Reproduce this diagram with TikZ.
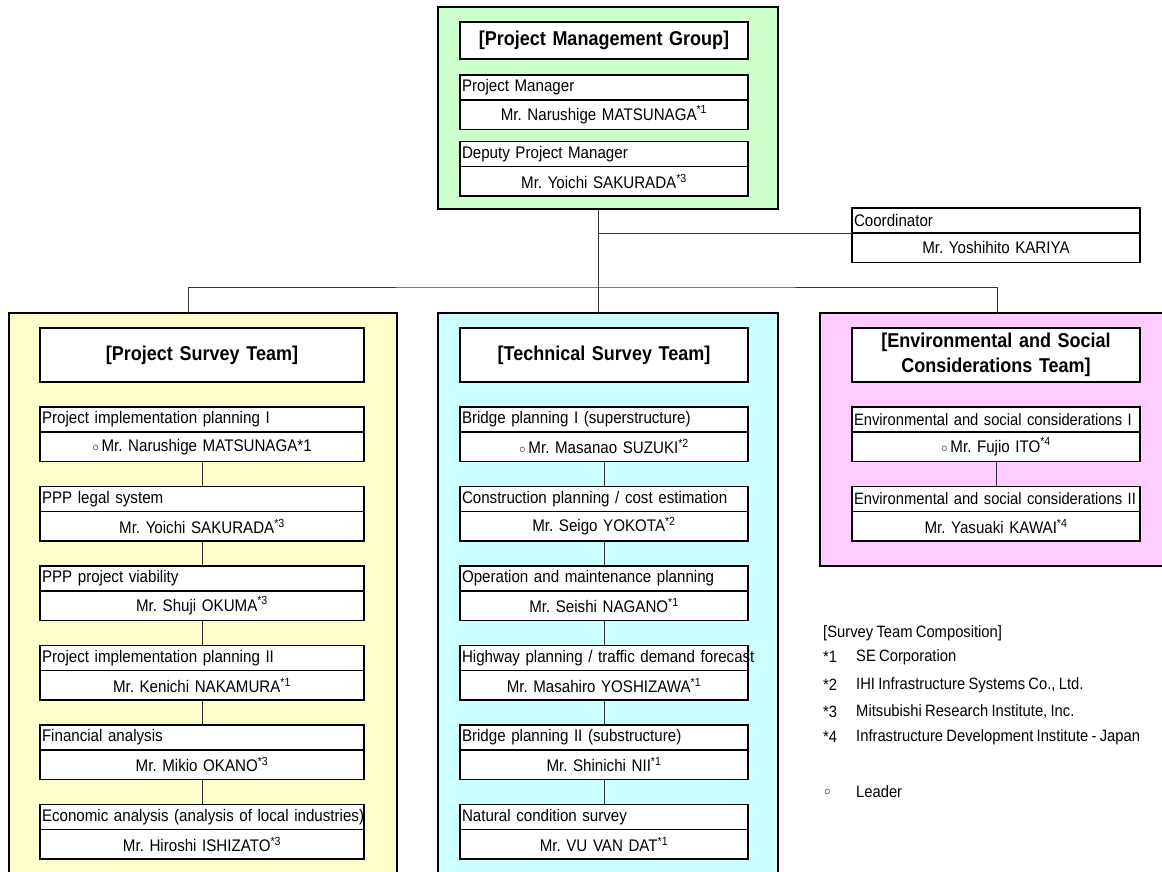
\documentclass[tikz,border=0pt]{standalone}
\usepackage{fontspec}
\setmainfont{Liberation Sans}[FakeStretch=0.9, WordSpace=0.8]
\usepackage{xcolor}
\usepackage{tikz}
\usetikzlibrary{positioning}
\definecolor{mgtgreen}{RGB}{204,255,204}
\definecolor{psyellow}{RGB}{255,255,204}
\definecolor{tscyan}{RGB}{204,255,255}
\definecolor{espink}{RGB}{255,204,255}
\newcommand{\firm}[1]{\textsuperscript{*#1}}
\newcommand{\lead}{{\fontsize{12}{12}\selectfont ○}\,}
\tikzstyle{group} = [rectangle, draw=black, line width=2pt, anchor=north west, outer sep=0pt]
\tikzstyle{title} = [rectangle, draw=black, line width=1.3pt, fill=white, minimum height=54pt, inner xsep=2pt, outer sep=0pt, align=center, font=\fontsize{20}{25}\selectfont\bfseries]
\tikzstyle{role} = [rectangle, draw=black, line width=1.3pt, fill=white, minimum height=25pt, inner xsep=2pt, inner ysep=0pt, outer sep=0pt, align=left, font=\fontsize{16.8}{19}\selectfont]
\tikzstyle{person} = [rectangle, draw=black, line width=1.3pt, fill=white, minimum height=29.5pt, inner xsep=2pt, inner ysep=0pt, outer sep=0pt, align=center, font=\fontsize{16.8}{19}\selectfont]
\tikzstyle{wide} = [text width=320pt]
\tikzstyle{narrow} = [text width=284pt]
\tikzstyle{link} = [draw=black!80, line width=1pt]
\tikzstyle{key} = [anchor=west, inner sep=0pt, font=\fontsize{16.4}{19}\selectfont]

\begin{document}
\frenchspacing
\begin{tikzpicture}[x=1pt, y=-1pt]
	\useasboundingbox (0,0) rectangle (1162,872);
	
	% coloured group frames
	\node (pmg) [group, fill=mgtgreen, minimum width=340pt, minimum height=202pt] at (438,7) {};
	\node (psg) [group, fill=psyellow, minimum width=388pt, minimum height=580pt] at (9,313) {};
	\node (tsg) [group, fill=tscyan, minimum width=340pt, minimum height=580pt] at (438,313) {};
	\node (esg) [group, fill=espink, minimum width=360pt, minimum height=253pt] at (820,313) {};
	
	% project management group
	\node (pmgt) [title, narrow, minimum height=37pt, anchor=north] at (604,22) {[Project Management Group]};
	\node (pm) [role, narrow, below=16pt of pmgt] {Project Manager};
	\node (pmn) [person, narrow, below=0pt of pm] {Mr. Narushige MATSUNAGA\firm{1}};
	\node (dpm) [role, narrow, below=12pt of pmn] {Deputy Project Manager};
	\node (dpmn) [person, narrow, below=0pt of dpm] {Mr. Yoichi SAKURADA\firm{3}};
	
	\node (cor) [role, narrow, anchor=north] at (996,208) {Coordinator};
	\node (corn) [person, narrow, below=0pt of cor] {Mr. Yoshihito KARIYA};
	
	% project survey team
	\node (pst) [title, wide, anchor=north] at (202,328) {[Project Survey Team]};
	\node (ps1) [role, wide, below=25pt of pst] {Project implementation planning I};
	\node (ps1n) [person, wide, below=0pt of ps1] {\lead Mr. Narushige MATSUNAGA*1};
	\node (ps2) [role, wide, below=25pt of ps1n] {PPP legal system};
	\node (ps2n) [person, wide, below=0pt of ps2] {Mr. Yoichi SAKURADA\firm{3}};
	\node (ps3) [role, wide, below=25pt of ps2n] {PPP project viability};
	\node (ps3n) [person, wide, below=0pt of ps3] {Mr. Shuji OKUMA\firm{3}};
	\node (ps4) [role, wide, below=25pt of ps3n] {Project implementation planning II};
	\node (ps4n) [person, wide, below=0pt of ps4] {Mr. Kenichi NAKAMURA\firm{1}};
	\node (ps5) [role, wide, below=25pt of ps4n] {Financial analysis};
	\node (ps5n) [person, wide, below=0pt of ps5] {Mr. Mikio OKANO\firm{3}};
	\node (ps6) [role, wide, below=25pt of ps5n] {\mbox{Economic analysis (analysis of local industries)}};
	\node (ps6n) [person, wide, below=0pt of ps6] {Mr. Hiroshi ISHIZATO\firm{3}};
	
	% technical survey team
	\node (tst) [title, narrow, anchor=north] at (604,328) {[Technical Survey Team]};
	\node (ts1) [role, narrow, below=25pt of tst] {Bridge planning I (superstructure)};
	\node (ts1n) [person, narrow, below=0pt of ts1] {\lead Mr. Masanao SUZUKI\firm{2}};
	\node (ts2) [role, narrow, below=25pt of ts1n] {Construction planning / cost estimation};
	\node (ts2n) [person, narrow, below=0pt of ts2] {Mr. Seigo YOKOTA\firm{2}};
	\node (ts3) [role, narrow, below=25pt of ts2n] {Operation and maintenance planning};
	\node (ts3n) [person, narrow, below=0pt of ts3] {Mr. Seishi NAGANO\firm{1}};
	\node (ts4) [role, narrow, below=25pt of ts3n] {\mbox{Highway planning / traffic demand forecast}};
	\node (ts4n) [person, narrow, below=0pt of ts4] {Mr. Masahiro YOSHIZAWA\firm{1}};
	\node (ts5) [role, narrow, below=25pt of ts4n] {Bridge planning II (substructure)};
	\node (ts5n) [person, narrow, below=0pt of ts5] {Mr. Shinichi NII\firm{1}};
	\node (ts6) [role, narrow, below=25pt of ts5n] {Natural condition survey};
	\node (ts6n) [person, narrow, below=0pt of ts6] {Mr. VU VAN DAT\firm{1}};
	
	% environmental and social considerations team
	\node (est) [title, narrow, anchor=north] at (996,328) {[Environmental and Social\\Considerations Team]};
	\node (es1) [role, narrow, below=25pt of est, font=\fontsize{16.4}{19}\selectfont] {\mbox{Environmental and social considerations I}};
	\node (es1n) [person, narrow, below=0pt of es1] {\lead Mr. Fujio ITO\firm{4}};
	\node (es2) [role, narrow, below=25pt of es1n, font=\fontsize{16.4}{19}\selectfont] {\mbox{Environmental and social considerations II}};
	\node (es2n) [person, narrow, below=0pt of es2] {Mr. Yasuaki KAWAI\firm{4}};
	
	% organisation lines
	\coordinate (trunk) at ([xshift=-10pt]pmg.south);
	\coordinate (bus) at (598,287);
	\draw [link] (trunk) -- ([xshift=-10pt]tsg.north);
	\draw [link] (trunk |- cor.south west) -- (cor.south west);
	\draw [link] ([xshift=-15pt]psg.north) |- (bus) -| ([xshift=-3pt]esg.north);
	
	\draw [link] (ps1n) -- (ps2);
	\draw [link] (ps2n) -- (ps3);
	\draw [link] (ps3n) -- (ps4);
	\draw [link] (ps4n) -- (ps5);
	\draw [link] (ps5n) -- (ps6);
	\draw [link] (ts1n) -- (ts2);
	\draw [link] (ts2n) -- (ts3);
	\draw [link] (ts3n) -- (ts4);
	\draw [link] (ts4n) -- (ts5);
	\draw [link] (ts5n) -- (ts6);
	\draw [link] (es1n) -- (es2);
	
	% legend
	\node (comp) [key] at (823,633) {[Survey Team Composition]};
	\node (k1) [key] at (823,657) {*1};
	\node (k1n) [key] at (856,657) {SE Corporation};
	\node (k2) [key] at (823,685) {*2};
	\node (k2n) [key] at (856,685) {IHI Infrastructure Systems Co., Ltd.};
	\node (k3) [key] at (823,712) {*3};
	\node (k3n) [key] at (856,712) {Mitsubishi Research Institute, Inc.};
	\node (k4) [key] at (823,737) {*4};
	\node (k4n) [key] at (856,737) {Infrastructure Development Institute - Japan};
	\node (kl) [key, font=\fontsize{12}{12}\selectfont] at (824,792) {○};
	\node (kln) [key] at (856,792) {Leader};
	
\end{tikzpicture}
\end{document}
